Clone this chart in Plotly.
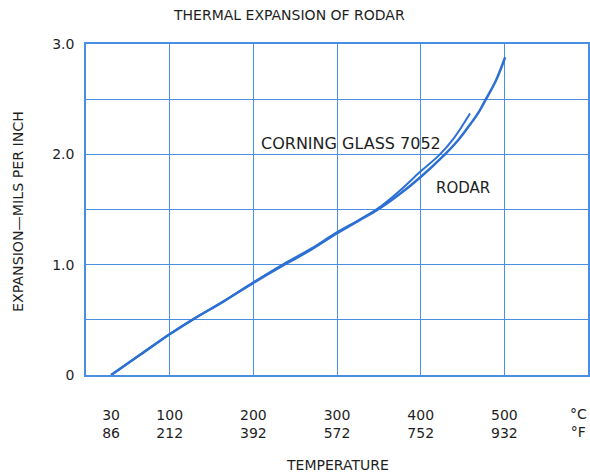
import plotly.graph_objects as go

# Data
rodar_t = [30, 65, 100, 127, 165, 200, 237, 270, 300, 325, 349, 375, 400, 429, 445, 460, 470, 478, 490, 501]
rodar_v = [0.0, 0.185, 0.37, 0.50, 0.67, 0.835, 1.00, 1.14, 1.285, 1.395, 1.50, 1.64, 1.795, 2.00, 2.13, 2.28, 2.39, 2.50, 2.67, 2.88]

corning_t = [30, 65, 100, 127, 165, 200, 237, 270, 300, 325, 349, 375, 400, 423, 440, 459]
corning_v = [0.0, 0.185, 0.37, 0.50, 0.67, 0.84, 1.01, 1.15, 1.295, 1.40, 1.51, 1.67, 1.846, 2.00, 2.15, 2.37]

c_ticks = [30, 100, 200, 300, 400, 500]
f_ticks = [86, 212, 392, 572, 752, 932]
y_ticks = [0, 1, 2, 3]
y_labels = ["0", "1.0", "2.0", "3.0"]

LINE = "#2c70d4"
GRID = "#4a8fdf"
TXT = "#1e1e1e"
FONT = "DejaVu Sans"

L, T, W, H = 86, 44, 502, 331  # plot area in pixels

def px_x(p):
    return (p - L) / W

def px_y(p):
    return 1 - (p - T) / H

fig = go.Figure()
fig.add_trace(go.Scatter(x=corning_t, y=corning_v, mode="lines",
                         line=dict(color=LINE, width=2, shape="spline", smoothing=1),
                         name="Corning Glass 7052", showlegend=False))
fig.add_trace(go.Scatter(x=rodar_t, y=rodar_v, mode="lines",
                         line=dict(color=LINE, width=2.5, shape="spline", smoothing=1),
                         name="Rodar", showlegend=False))

ann_font = dict(family=FONT, color=TXT)

fig.update_layout(
    width=590, height=473,
    margin=dict(l=L, r=590 - L - W, t=T, b=473 - T - H),
    paper_bgcolor="white", plot_bgcolor="white",
    font=dict(family=FONT, color=TXT, size=14),
    xaxis=dict(
        range=[0, 600], tickvals=c_ticks,
        ticktext=[f"{c}<br>{f}" for c, f in zip(c_ticks, f_ticks)],
        showgrid=False, zeroline=False, automargin=False,
        showline=True, mirror=True, linecolor=GRID, linewidth=1.5,
        ticks="outside", ticklen=26, tickcolor="rgba(0,0,0,0)",
        tickfont=dict(size=14, family=FONT, color=TXT),
        minor=dict(tickvals=[0, 100, 200, 300, 400, 500, 600], showgrid=True,
                   gridcolor=GRID, gridwidth=1.2),
        fixedrange=True,
    ),
    yaxis=dict(
        range=[0, 3], tickvals=y_ticks, ticktext=y_labels,
        showgrid=False, zeroline=False, automargin=False,
        showline=True, mirror=True, linecolor=GRID, linewidth=1.5,
        ticks="outside", ticklen=7, tickcolor="rgba(0,0,0,0)",
        tickfont=dict(size=14, family=FONT, color=TXT),
        minor=dict(tickvals=[0, 0.5, 1, 1.5, 2, 2.5, 3], showgrid=True,
                   gridcolor=GRID, gridwidth=1.2),
        fixedrange=True,
    ),
    annotations=[
        dict(text="THERMAL EXPANSION OF RODAR", xref="paper", yref="paper",
             x=px_x(289), y=px_y(15), xanchor="center", yanchor="middle",
             showarrow=False, font=dict(size=14, **ann_font)),
        dict(text="EXPANSION\u2014MILS PER INCH", xref="paper", yref="paper",
             x=px_x(18), y=px_y(212), xanchor="center", yanchor="middle",
             textangle=-90, showarrow=False, font=dict(size=14.2, **ann_font)),
        dict(text="TEMPERATURE", xref="paper", yref="paper",
             x=px_x(337), y=px_y(465), xanchor="center", yanchor="middle",
             showarrow=False, font=dict(size=14, **ann_font)),
        dict(text="\u00b0C<br>\u00b0F", xref="paper", yref="paper",
             x=px_x(589), y=px_y(423), xanchor="right", yanchor="middle",
             showarrow=False, font=dict(size=14, **ann_font)),
        dict(text="CORNING GLASS 7052", xref="paper", yref="paper",
             x=px_x(351), y=px_y(143), xanchor="center", yanchor="middle",
             showarrow=False, font=dict(size=16, **ann_font)),
        dict(text="RODAR", xref="paper", yref="paper",
             x=px_x(463), y=px_y(188), xanchor="center", yanchor="middle",
             showarrow=False, font=dict(size=15, **ann_font)),
    ],
)

fig.write_html("out.html", config={"displayModeBar": False},
               post_script="document.body.style.margin='0';document.body.style.padding='0';")
